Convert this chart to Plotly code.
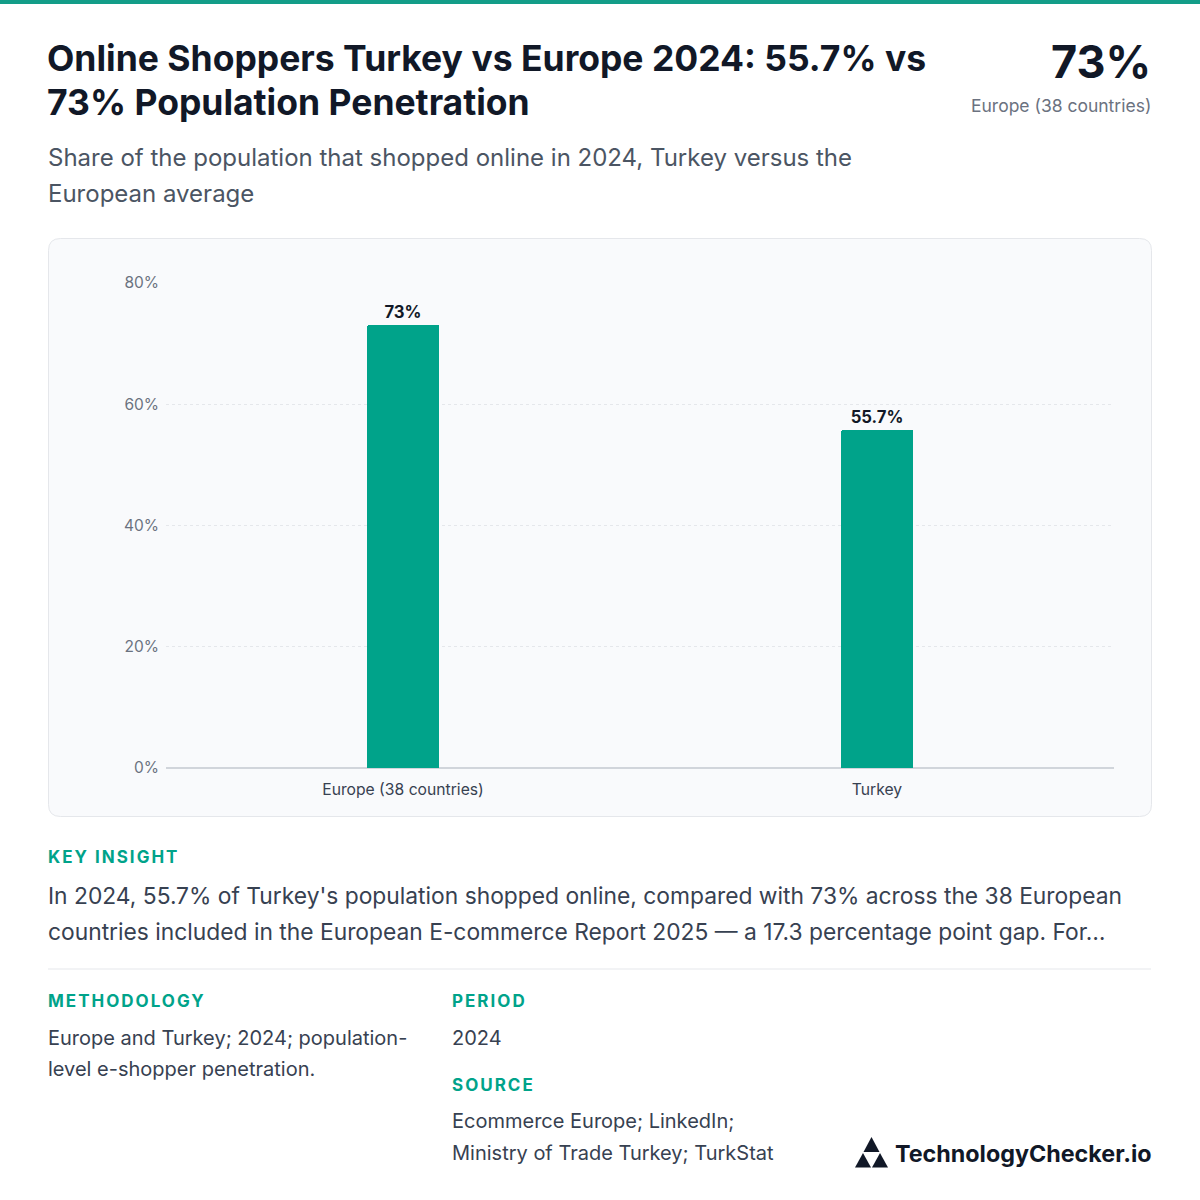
import plotly.graph_objects as go

categories = ["Europe (38 countries)", "Turkey"]
values = [73, 55.7]
value_labels = ["73%", "55.7%"]
tick_vals = [0, 20, 40, 60, 80]
tick_text = ["0%", "20%", "40%", "60%", "80%"]

W, H = 1200, 1200
TEAL = "#00A38A"
DARK = "#111827"
GRAY = "#6b7280"
BODY = "#374151"
FONT = "Inter, Noto Sans, sans-serif"

def px(x):
    return x / W

def py(y):
    return 1 - y / H

fig = go.Figure()
fig.add_trace(go.Bar(
    x=categories, y=values, width=0.152,
    marker=dict(color=TEAL, line=dict(width=0), cornerradius=2),
    text=value_labels, textposition="outside", cliponaxis=False,
    textfont=dict(family=FONT, size=16.7, color=DARK, weight="bold"),
    hoverinfo="skip",
))

fig.update_layout(
    width=W, height=H,
    margin=dict(l=0, r=0, t=0, b=0, pad=0, autoexpand=False),
    paper_bgcolor="white",
    plot_bgcolor="rgba(0,0,0,0)",
    showlegend=False,
    bargap=0,
    modebar=dict(bgcolor="rgba(0,0,0,0)", color="rgba(0,0,0,0)", activecolor="rgba(0,0,0,0)"),
    xaxis=dict(
        domain=[px(166), px(1114)],
        automargin=False,
        showgrid=False, zeroline=False, showline=False,
        tickfont=dict(family=FONT, size=15.7, color=BODY),
        ticks="", ticklabelstandoff=10,
        fixedrange=True,
    ),
    yaxis=dict(
        domain=[py(768), py(283)],
        automargin=False,
        range=[0, 80],
        tickvals=tick_vals, ticktext=tick_text,
        showgrid=True, gridcolor="#e5e7eb", griddash="dot", gridwidth=1,
        zeroline=True, zerolinecolor="#d1d5db", zerolinewidth=1.5,
        showline=False, ticks="",
        tickfont=dict(family=FONT, size=15.5, color=GRAY),
        ticklabelstandoff=6,
        fixedrange=True,
    ),
)

# Top accent bar
fig.add_shape(type="rect", xref="paper", yref="paper",
              x0=0, x1=1, y0=py(4), y1=py(0),
              fillcolor="#139d88", line=dict(width=0), layer="below")

# Chart card (rounded rectangle)
x0, x1, y0, y1, r = 48.5, 1151.5, 238.5, 816.5, 12
path = (f"M {px(x0+r)},{py(y0)} L {px(x1-r)},{py(y0)} "
        f"Q {px(x1)},{py(y0)} {px(x1)},{py(y0+r)} "
        f"L {px(x1)},{py(y1-r)} Q {px(x1)},{py(y1)} {px(x1-r)},{py(y1)} "
        f"L {px(x0+r)},{py(y1)} Q {px(x0)},{py(y1)} {px(x0)},{py(y1-r)} "
        f"L {px(x0)},{py(y0+r)} Q {px(x0)},{py(y0)} {px(x0+r)},{py(y0)} Z")
fig.add_shape(type="path", xref="paper", yref="paper", path=path,
              fillcolor="#f9fafc", line=dict(color="#e5e7eb", width=1), layer="below")

# Divider
fig.add_shape(type="line", xref="paper", yref="paper",
              x0=px(48), x1=px(1151), y0=py(969), y1=py(969),
              line=dict(color="#e5e7eb", width=1))

def text(x, y, s, size, color, bold=False, xanchor="left", yanchor="middle"):
    dx = -2 if xanchor == "left" else 2
    fig.add_annotation(
        xref="paper", yref="paper", x=px(x + dx), y=py(y), text=s, showarrow=False,
        xanchor=xanchor, yanchor=yanchor, align=xanchor,
        font=dict(family=FONT, size=size, color=color, weight="bold" if bold else "normal"),
    )

# Title
text(47, 58, "Online Shoppers Turkey vs Europe 2024: 55.7% vs", 35.5, DARK, bold=True)
text(47, 103, "73% Population Penetration", 35.5, DARK, bold=True)

# Headline stat
text(1151, 62, "73%", 45, DARK, bold=True, xanchor="right")
text(1151, 105, "Europe (38 countries)", 17.5, GRAY, xanchor="right")

# Subtitle
text(48, 157, "Share of the population that shopped online in 2024, Turkey versus the", 24, "#4b5563")
text(48, 193, "European average", 24, "#4b5563")

# Key insight
text(48, 857, "KEY INSIGHT", 17, TEAL, bold=True)
text(48, 895, "In 2024, 55.7% of Turkey's population shopped online, compared with 73% across the 38 European", 22.8, BODY)
text(48, 931, "countries included in the European E-commerce Report 2025 — a 17.3 percentage point gap. For…", 22.8, BODY)

# Methodology / period / source
text(48, 1001, "METHODOLOGY", 17, TEAL, bold=True)
text(48, 1038, "Europe and Turkey; 2024; population-", 20, BODY)
text(48, 1069, "level e-shopper penetration.", 20, BODY)

text(452, 1001, "PERIOD", 17, TEAL, bold=True)
text(452, 1038, "2024", 20, BODY)

text(452, 1085, "SOURCE", 17, TEAL, bold=True)
text(452, 1121, "Ecommerce Europe; LinkedIn;", 20, BODY)
text(452, 1153, "Ministry of Trade Turkey; TurkStat", 20, BODY)

# Logo mark: three triangles
def tri(ax, ay, bx, by, cx, cy):
    fig.add_shape(type="path", xref="paper", yref="paper",
                  path=f"M {px(ax)},{py(ay)} L {px(bx)},{py(by)} L {px(cx)},{py(cy)} Z",
                  fillcolor=DARK, line=dict(width=0))

tri(871.5, 1137, 863.5, 1152, 879.5, 1152)
tri(863, 1153, 855, 1167.5, 871, 1167.5)
tri(880, 1153, 872, 1167.5, 888, 1167.5)

text(1152, 1153, "TechnologyChecker.io", 23.3, DARK, bold=True, xanchor="right")

page_setup = (
    "document.body.style.margin='0';"
    "document.documentElement.style.overflow='hidden';"
    "var st=document.createElement('style');"
    "st.textContent='.modebar-container{display:none !important;}';"
    "document.head.appendChild(st);"
    "var gd=document.getElementById('{plot_id}');"
    "gd.style.position='fixed';gd.style.left='0px';gd.style.top='0px';"
    "var hs=['KEY INSIGHT','METHODOLOGY','PERIOD','SOURCE'];"
    "gd.querySelectorAll('.annotation-text').forEach(function(t){"
    "if(hs.indexOf(t.textContent)>=0){t.style.letterSpacing='2px';}});"
)

fig.write_html("out.html", post_script=page_setup)
